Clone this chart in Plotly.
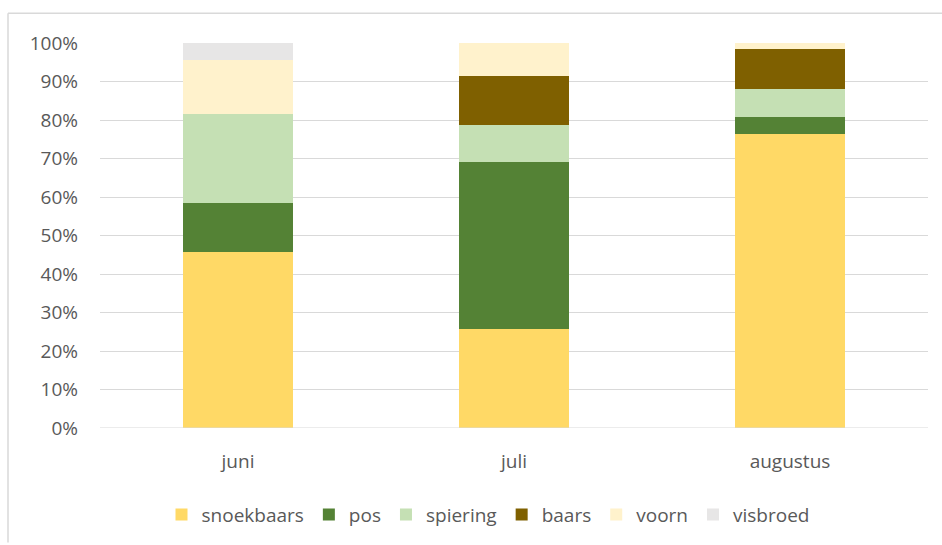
import plotly.graph_objects as go

# Share of prey species per month (percent of total)
months = ["juni", "juli", "augustus"]
species = ["snoekbaars", "pos", "spiering", "baars", "voorn", "visbroed"]
snoekbaars = [45.6, 25.8, 76.3]
pos = [12.9, 43.3, 4.4]
spiering = [23.1, 9.5, 7.3]
baars = [0.0, 12.9, 10.5]
voorn = [14.1, 8.5, 1.5]
visbroed = [4.3, 0.0, 0.0]
y_ticks = [0, 10, 20, 30, 40, 50, 60, 70, 80, 90, 100]

series = [snoekbaars, pos, spiering, baars, voorn, visbroed]
colors = ["#FFD966", "#548235", "#C5E0B4", "#7F6000", "#FFF2CC", "#E7E6E6"]

W, H = 942, 545
L, R, T, B = 100, 14, 43, 115
plot_w = W - L - R
plot_h = H - T - B


def px_x(x):
    return (x - L) / plot_w


def px_y(y):
    return (H - B - y) / plot_h


fig = go.Figure()
for name, vals, col in zip(species, series, colors):
    fig.add_trace(go.Bar(
        x=months, y=vals, name=name,
        marker=dict(color=col, line=dict(width=0)),
    ))

text_color = "#595959"
grid_color = "#D9D9D9"
fsize = 19

fig.update_layout(
    width=W, height=H,
    margin=dict(l=L, r=R, t=T, b=B, pad=0),
    barmode="stack",
    bargap=0.6,
    plot_bgcolor="white",
    paper_bgcolor="white",
    font=dict(family="Open Sans", size=fsize, color=text_color),
    showlegend=True,
    legend=dict(
        orientation="h",
        x=px_x(488), xanchor="center",
        y=px_y(517), yanchor="middle",
        font=dict(size=fsize, color=text_color),
        itemwidth=30,
        traceorder="normal",
    ),
    xaxis=dict(
        showgrid=False, zeroline=False, showline=False,
        ticks="", ticklabelstandoff=20,
        tickfont=dict(size=fsize, color=text_color),
    ),
    yaxis=dict(
        range=[0, 100],
        tickvals=y_ticks,
        ticktext=[f"{v}%" for v in y_ticks],
        showgrid=True, gridcolor=grid_color, gridwidth=1,
        zeroline=False, showline=False, ticks="",
        ticklabelstandoff=21,
        tickfont=dict(size=fsize, color=text_color),
        fixedrange=True,
    ),
    shapes=[
        # chart area frame (top and left edges)
        dict(type="line", xref="paper", yref="paper",
             x0=px_x(8), x1=px_x(W), y0=px_y(13), y1=px_y(13),
             line=dict(color=grid_color, width=1.5)),
        dict(type="line", xref="paper", yref="paper",
             x0=px_x(8), x1=px_x(8), y0=px_y(13), y1=px_y(H),
             line=dict(color=grid_color, width=1.5)),
        # baseline at 0%
        dict(type="line", xref="paper", yref="y",
             x0=0, x1=1, y0=0, y1=0,
             line=dict(color=grid_color, width=1)),
    ],
)

fig.write_html("out.html")
